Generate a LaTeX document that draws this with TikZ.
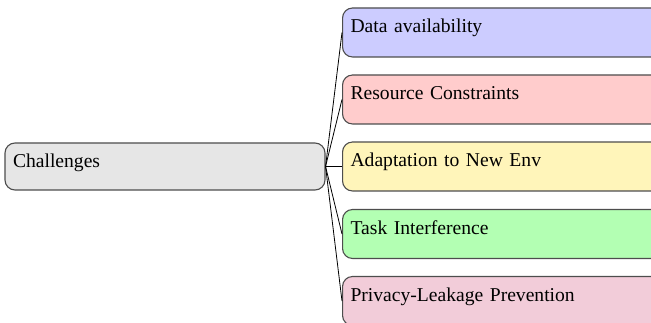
\documentclass[tikz,border=0pt]{standalone}
\usepackage{fontspec}
\setmainfont{Liberation Serif}
\definecolor{rootfill}{HTML}{E6E6E6}
\definecolor{c1}{HTML}{CCCCFF}
\definecolor{c2}{HTML}{FFCCCC}
\definecolor{c3}{HTML}{FFF5BA}
\definecolor{c4}{HTML}{B3FFB3}
\definecolor{c5}{HTML}{F2CCD9}
\definecolor{edgegray}{HTML}{4D4D4D}
\begin{document}
\begin{tikzpicture}[x=1pt,y=-1pt,
  box/.style={draw=edgegray, line width=1.1pt, rounded corners=10pt, rectangle,
    inner xsep=8pt, inner ysep=0pt, text height=25pt, text depth=24pt,
    align=left, font=\fontsize{19.6pt}{22pt}\selectfont},
  rootbox/.style={box, fill=rootfill, text width=304pt, text depth=22pt},
  childbox/.style={box, text width=344pt, anchor=west},
  link/.style={draw=black, line width=0.8pt}]
\useasboundingbox (0,0) rectangle (651,323);
\clip (0,0) rectangle (651,323);
\node[rootbox] (root) at (165,166.5) {Challenges};
\node[childbox, fill=c1] (a) at (342,32.5) {Data availability};
\node[childbox, fill=c2] (b) at (342,99.5) {Resource Constraints};
\node[childbox, fill=c3] (c) at (342,166.5) {Adaptation to New Env};
\node[childbox, fill=c4] (d) at (342,234) {Task Interference};
\node[childbox, fill=c5] (e) at (342,301) {Privacy-Leakage Prevention};
\foreach \n in {a,b,c,d,e} \draw[link] (root.east) -- (\n.west);
\end{tikzpicture}
\end{document}
